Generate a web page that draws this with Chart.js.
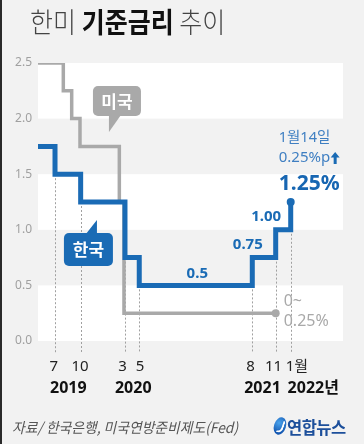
<!DOCTYPE html>
<html><head><meta charset="utf-8">
<script src="https://cdn.jsdelivr.net/npm/chart.js@4"></script>
<style>
html,body{margin:0;padding:0;background:#f2f2f2;}
#wrap{position:relative;width:364px;height:444px;background:#f2f2f2;overflow:hidden;}
#edge{position:absolute;left:0;top:0;width:2px;height:444px;background:#2a2a2a;z-index:5}
canvas{position:absolute;left:0;top:0;}
#title{position:absolute;left:30px;top:6px;line-height:30px;font-family:"Noto Sans CJK KR";font-size:25px;color:#444;white-space:nowrap;transform-origin:0 50%;transform:scaleY(1.12);z-index:3}
#title .l{font-weight:300}
#title b{font-weight:700;color:#111}
#src{position:absolute;left:12px;top:419px;line-height:16px;font-family:"Noto Sans CJK KR";font-size:13.8px;font-style:italic;color:#555;white-space:nowrap;transform-origin:0 50%;transform:scaleY(1.05);z-index:3}
#logo{position:absolute;left:274px;top:417px;width:12px;height:18px;border-radius:50%;background:radial-gradient(circle at 35% 35%,#4aa3ec,#1458b2 70%);transform:rotate(18deg);z-index:3}
#logo:after{content:'';position:absolute;left:4px;top:3px;width:4px;height:11px;border-right:2px solid #fff;border-bottom:2px solid #fff;border-radius:0 0 6px 0;}
#logot{position:absolute;left:287px;top:418px;line-height:18px;font-family:"Noto Sans CJK KR";font-size:16.5px;font-weight:700;color:#1c4f9b;white-space:nowrap;letter-spacing:-0.5px;z-index:3}
</style></head>
<body>
<div id="wrap">
<div id="edge"></div>
<div id="title"><span class="l">한미</span> <b>기준금리</b> <span class="l">추이</span></div>
<canvas id="c" width="364" height="444"></canvas>
<div id="src">자료/ 한국은행, 미국연방준비제도(Fed)</div>
<div id="logo"></div>
<div id="logot">연합뉴스</div>
</div>
<script>
// ---- data (x = position along the time axis) ----
const korX = [0, 2.05, 5.14, 10.48, 12.2, 25.82, 28.64, 30.45];
const korY = [1.75, 1.5, 1.25, 0.75, 0.5, 0.75, 1.0, 1.25];
const usX = [0, 3.05, 4.06, 5.06, 9.8, 10.36, 28.64];
const usY = [2.5, 2.25, 2.0, 1.75, 1.25, 0.25, 0.25];
const monthLabels = ['7', '10', '3', '5', '8', '11', '1월'];
const monthPos = [1.9, 5.06, 10.2, 12.28, 25.6, 28.38, 31.2];
const yearLabels = ['2019', '2020', '2021', '2022년'];
const yearPos = [3.65, 11.48, 27.05, 33.17];
const yTicks = [0, 0.5, 1.0, 1.5, 2.0, 2.5];
const XMAX = 36.75;

const BLUE = '#1a6bb5';
const GRAY = '#a9a9a9';
const FONT = '"Noto Sans", "Noto Sans CJK KR", sans-serif';

const pts = (xs, ys) => xs.map((x, i) => ({x, y: ys[i]}));

const decor = {
  id: 'decor',
  beforeDatasetsDraw(chart) {
    const {ctx, chartArea: a, scales: {x, y}} = chart;
    ctx.save();
    ctx.fillStyle = '#ffffff';
    for (let i = 0; i < yTicks.length - 1; i += 2) {
      const t = y.getPixelForValue(yTicks[i + 1]);
      const b = y.getPixelForValue(yTicks[i]);
      ctx.fillRect(a.left, t, a.right - a.left, b - t);
    }
    ctx.strokeStyle = '#a0a0a0';
    ctx.lineWidth = 1;
    ctx.setLineDash([2, 2]);
    for (let i = 1; i < korX.length; i++) {
      const px = Math.round(x.getPixelForValue(korX[i])) + 0.5;
      const top = y.getPixelForValue(Math.min(korY[i - 1], korY[i]));
      ctx.beginPath();
      ctx.moveTo(px, top);
      ctx.lineTo(px, a.bottom + 12);
      ctx.stroke();
    }
    ctx.restore();
  },
  afterDatasetsDraw(chart) {
    const {ctx, scales: {x, y}} = chart;
    const P = (vx, vy) => [x.getPixelForValue(vx), y.getPixelForValue(vy)];
    ctx.save();
    const txt = (s, px, py, font, color, align) => {
      ctx.font = font; ctx.fillStyle = color; ctx.textAlign = align || 'center'; ctx.textBaseline = 'middle';
      ctx.fillText(s, px, py);
    };
    let [ax, ay] = P((korX[4] + korX[5]) / 2, korY[4]);
    txt('0.5', ax + 1.5, ay - 12, 'bold 15px ' + FONT, BLUE);
    [ax, ay] = P(korX[5], korY[5]);
    txt('0.75', ax - 4.5, ay - 12.5, 'bold 15px ' + FONT, BLUE);
    [ax, ay] = P(korX[6], korY[6]);
    txt('1.00', ax - 9.5, ay - 13, 'bold 15px ' + FONT, BLUE);
    [ax, ay] = P(korX[7], korY[7]);
    txt('1.25%', ax - 12, ay - 17.5, 'bold 21px ' + FONT, '#1766b2', 'left');
    txt('0.25%p', ax - 12, ay - 44, '15px ' + FONT, '#3f7fc2', 'left');
    txt('1월14일', ax - 12, ay - 64, '14.5px ' + FONT, '#3f7fc2', 'left');
    ctx.font = '15px ' + FONT;
    const aw = ctx.measureText('0.25%p').width;
    const cx = ax - 12 + aw + 5, cy = ay - 44;
    ctx.fillStyle = '#1a6bb5';
    ctx.beginPath();
    ctx.moveTo(cx, cy - 6); ctx.lineTo(cx + 4.5, cy - 0.5); ctx.lineTo(cx + 1.5, cy - 0.5);
    ctx.lineTo(cx + 1.5, cy + 6); ctx.lineTo(cx - 1.5, cy + 6); ctx.lineTo(cx - 1.5, cy - 0.5);
    ctx.lineTo(cx - 4.5, cy - 0.5); ctx.closePath(); ctx.fill();
    [ax, ay] = P(usX[6], usY[6]);
    txt('0~', ax + 8, ay - 11.5, '16px ' + FONT, GRAY, 'left');
    txt('0.25%', ax + 8, ay + 8.5, '16px ' + FONT, GRAY, 'left');
    const callout = (label, apexV, box, tail, color) => {
      const [px, py] = P(apexV[0], apexV[1]);
      ctx.fillStyle = color;
      ctx.beginPath();
      ctx.roundRect(px + box[0], py + box[1], box[2], box[3], 5);
      ctx.fill();
      ctx.beginPath();
      ctx.moveTo(px, py);
      ctx.lineTo(px + tail[0], py + tail[1]);
      ctx.lineTo(px + tail[2], py + tail[3]);
      ctx.closePath(); ctx.fill();
      txt(label, px + box[0] + box[2] / 2, py + box[1] + box[3] / 2 + 0.5, 'bold 17px "Noto Sans CJK KR"', '#ffffff');
    };
    callout('미국', [8.55, 1.88], [-16, -46, 48, 30], [0, -17, 12, -17], GRAY);
    callout('한국', [7.1, 1.088], [-33, 13, 49, 33], [-11, 14, 0, 14], BLUE);
    ctx.restore();
  }
};

new Chart(document.getElementById('c'), {
  type: 'line',
  data: {
    datasets: [
      {
        label: '한국', data: pts(korX, korY), stepped: true,
        borderColor: BLUE, borderWidth: 5, borderJoinStyle: 'miter', borderCapStyle: 'butt',
        pointRadius: c => c.dataIndex === korX.length - 1 ? 4 : 0,
        pointBackgroundColor: BLUE, pointBorderWidth: 0, fill: false
      },
      {
        label: '미국', data: pts(usX, usY), stepped: true,
        borderColor: GRAY, borderWidth: 3.5, borderJoinStyle: 'miter', borderCapStyle: 'butt',
        pointRadius: c => c.dataIndex === usX.length - 1 ? 4 : 0,
        pointBackgroundColor: GRAY, pointBorderWidth: 0, fill: false
      }
    ]
  },
  options: {
    responsive: false, animation: false, devicePixelRatio: 1,
    layout: {padding: {top: 63, right: 21, left: 0, bottom: 46}},
    plugins: {legend: {display: false}, tooltip: {enabled: false}, title: {display: false}},
    scales: {
      x: {
        type: 'linear', min: 0, max: XMAX, position: 'bottom',
        grid: {display: false, drawTicks: false}, border: {display: false},
        afterBuildTicks: s => { s.ticks = monthPos.map(v => ({value: v})); },
        ticks: {
          autoSkip: false, maxRotation: 0, padding: 17,
          callback: (v, i) => monthLabels[i],
          font: {family: FONT, size: 15}, color: '#222'
        },
        afterFit: s => { s.height = 34; }
      },
      x2: {
        type: 'linear', min: 0, max: XMAX, position: 'bottom',
        grid: {display: false, drawTicks: false}, border: {display: false},
        afterBuildTicks: s => { s.ticks = yearPos.map(v => ({value: v})); },
        ticks: {
          autoSkip: false, maxRotation: 0, padding: 4,
          callback: (v, i) => yearLabels[i],
          font: {family: FONT, size: 16, weight: 'bold'}, color: '#111'
        },
        afterFit: s => { s.height = 23; }
      },
      y: {
        min: 0, max: 2.5,
        grid: {display: false, drawTicks: false}, border: {display: false},
        afterBuildTicks: s => { s.ticks = yTicks.map(v => ({value: v})); },
        ticks: {
          padding: 6, callback: v => v.toFixed(1),
          font: {family: FONT, size: 12}, color: '#a0a0a0'
        },
        afterFit: s => { s.width = 38; }
      }
    }
  },
  plugins: [decor]
});
</script>
</body></html>
